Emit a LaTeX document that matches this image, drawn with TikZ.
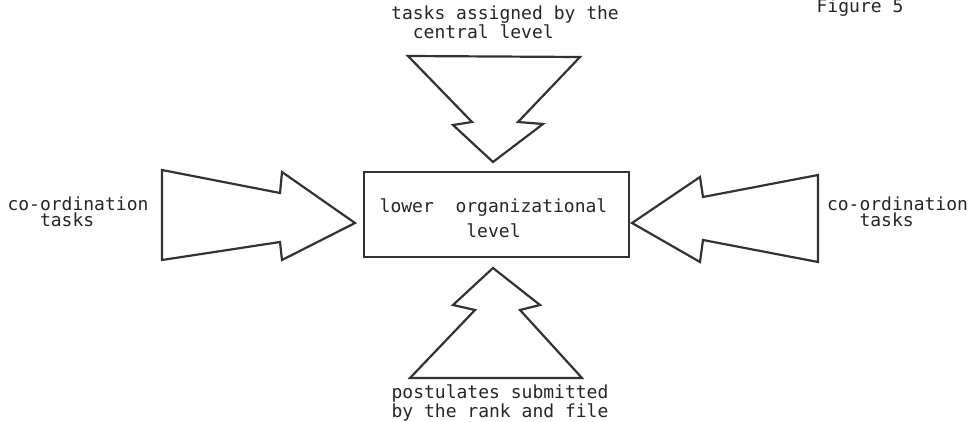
\documentclass[tikz,border=0pt]{standalone}
\usepackage{fontspec}
\setmonofont{DejaVu Sans Mono}
\begin{document}
\begin{tikzpicture}[x=1pt,y=-1pt,
	lbl/.style={font=\ttfamily\fontsize{18}{16.5}\selectfont, align=left, text=black!85, inner sep=0pt},
	blk/.style={draw=black!80, line width=2.2pt, line join=miter}]
\useasboundingbox (0,0) rectangle (970,422);
\path (860,8) node[lbl] (fig) {Figure 5}
		(505,22) node[lbl] (central) {tasks assigned by the\\~~central level}
		(78,212) node[lbl] (coordl) {co-ordination\\~~~tasks}
		(897.5,212) node[lbl] (coordr) {co-ordination\\~~~tasks}
		(500,403) node[lbl] (ranks) {postulates submitted\\by the rank and file}
		(496.5,214.5) node[blk, minimum width=265pt, minimum height=85pt] (core) {}
		(493.5,218) node[lbl, align=center, font=\ttfamily\fontsize{18}{25}\selectfont] (corelbl) {lower~~organizational\\level};
% block arrows
\draw[blk] (408,56) -- (472,122) -- (453,125) -- (493,162) -- (543,124) -- (518,122) -- (580,57) -- cycle;
\draw[blk] (162,170) -- (280,193) -- (282,172) -- (355,223) -- (282,260) -- (280,242) -- (162,260) -- cycle;
\draw[blk] (818,175) -- (703,197) -- (700,177) -- (632,223) -- (700,262) -- (703,240) -- (818,262) -- cycle;
\draw[blk] (410,378) -- (475,310) -- (453,305) -- (493,268) -- (540,305) -- (520,310) -- (582,378) -- cycle;

\end{tikzpicture}
\end{document}
